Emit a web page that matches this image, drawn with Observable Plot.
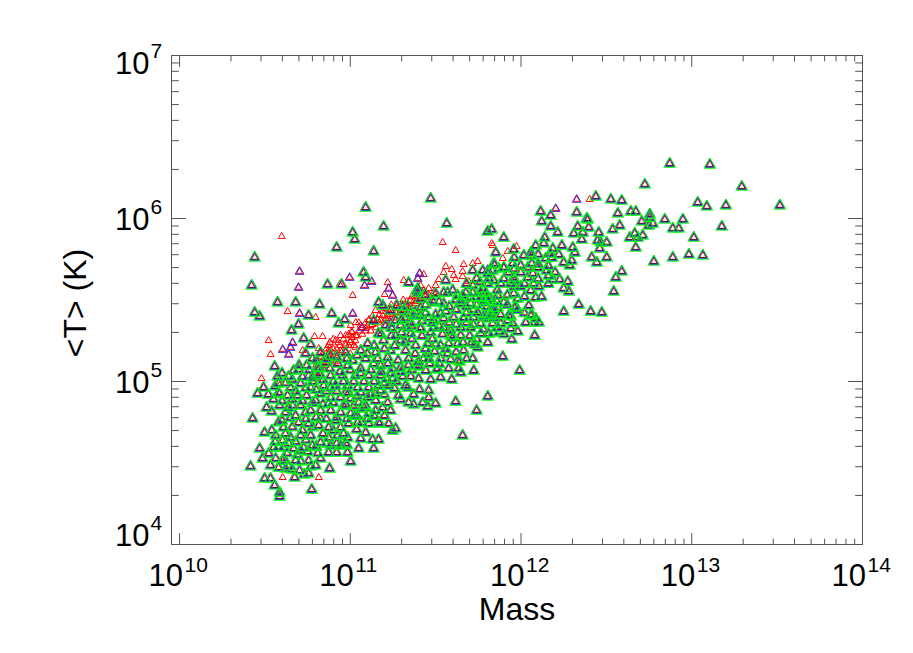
<!DOCTYPE html>
<html><head><meta charset="utf-8">
<style>html,body{margin:0;padding:0;background:#fff}svg{display:block}</style>
<script src="https://cdn.jsdelivr.net/npm/d3@7"></script>
<script src="https://cdn.jsdelivr.net/npm/@observablehq/plot@0.6"></script>
</head><body><div id="chart"></div>
<script>
// values are [log10 Mass, log10 <T>]
const fullPoints = [
[12.871,6.337],[13.106,6.331],[12.725,6.209],[13.293,6.196],[12.526,6.117],[12.590,6.110],[13.035,6.098],[13.088,6.074],[13.200,6.080],[13.516,6.080],[12.567,6.031],[12.643,6.043],[12.672,6.043],[12.754,6.025],[12.754,6.006],[12.707,5.982],[12.772,5.969],[12.842,5.994],[12.948,5.994],[12.537,5.933],[12.578,5.957],[12.748,5.957],[12.889,5.939],[12.924,5.939],[13.176,5.951],[13.012,5.883],[12.637,5.883],[12.666,5.908],[12.684,5.883],[12.713,5.896],[12.502,5.853],[12.467,5.853],[12.672,5.822],[12.502,5.761],[12.889,5.761],[12.983,5.779],[13.065,5.773],[12.778,5.736],[12.590,5.675],[12.555,5.638],
[12.438,6.135],[12.115,6.043],[12.174,6.018],[12.326,6.037],[12.385,6.0],[12.391,5.994],[12.174,5.951],[12.332,5.951],[11.805,5.920],[11.828,5.933],[12.215,5.914],[12.309,5.908],[12.397,5.945],[12.362,5.914],[12.455,5.914],[11.899,5.883],[12.139,5.883],[12.356,5.871],[12.449,5.865],[12.121,5.982],[12.239,5.834],[12.461,5.816],[12.303,5.822],[12.315,5.791],[11.957,5.810],[12.086,5.834],[12.133,5.847],[12.186,5.816],[11.852,5.791],[12.016,5.773],[12.057,5.791],[12.174,5.785],[12.221,5.779],[12.414,5.761],[12.444,5.730],[11.951,5.724],[12.063,5.724],[12.145,5.755],[12.250,5.730],[12.297,5.742],[12.285,5.712],[11.846,5.718],[11.899,5.699],[11.998,5.712],[12.098,5.699],[11.776,5.681],[11.834,5.681],[11.928,5.669],[11.998,5.669],[12.069,5.663],[12.151,5.681],[12.162,5.650],[11.805,5.663],[11.811,5.632],[11.957,5.638],[12.039,5.638],[12.186,5.626],[12.227,5.626],[12.274,5.613],[11.881,5.601],[11.940,5.601],[11.998,5.583],[12.074,5.601],[12.104,5.583],[12.250,5.571],[11.776,5.571],[12.280,5.552],[12.057,5.558],[12.543,5.552],[11.793,5.546],[11.957,5.540],[11.863,5.528],[12.086,5.515],[11.822,5.509],[11.981,5.509],[11.899,5.485],[11.781,5.485],[12.045,5.466],[11.863,5.454],[11.963,5.454],[12.338,5.472],[12.408,5.429],[12.473,5.423],[12.250,5.429],[12.057,5.405],[11.822,5.405],[11.928,5.405],[12.086,5.387],
[12.063,5.411],[12.028,5.362],[12.080,5.362],[12.104,5.362],[12.080,5.282],[11.946,5.258],[11.981,5.307],[11.875,5.307],[11.969,5.460],[11.951,5.356],[11.922,5.374],[11.940,5.325],[11.893,5.153],[11.992,5.067],[11.805,5.239],[11.805,4.908],[11.740,4.822],[11.658,4.669],[11.617,4.877],[11.500,4.865],[11.453,4.847],[11.424,4.871],[11.371,4.859],[11.342,4.871],[11.295,4.890],[11.459,4.902],[11.371,4.920],[11.336,4.963],[11.406,4.951],[11.459,4.945],[11.723,5.067],[11.594,5.012],[11.529,5.025],[11.471,5.012],[11.647,5.055],[11.635,5.080],[11.576,5.080],[11.506,5.074],[11.442,5.067],[11.354,5.031],[11.307,5.031],[11.401,5.092],[11.465,5.110],[11.529,5.141],[11.588,5.135],[11.641,5.123],[11.682,5.141],[11.717,5.141],[11.664,5.190],[11.570,5.172],[11.494,5.184],[11.430,5.141],[11.746,5.209],[11.711,5.239],[11.629,5.233],[11.576,5.233],[11.453,5.233],[11.529,5.221],[11.729,5.227],[11.588,5.282],[11.647,5.282],[11.811,5.294],[11.764,5.294],[11.705,5.331],[11.647,5.331],[11.547,5.331],[11.488,5.331],[11.412,5.331],[11.336,5.331],[11.764,5.356],[11.834,5.356],[11.881,5.356],[11.664,5.393],[11.606,5.393],[11.529,5.417],[11.459,5.393],[11.371,5.405],[11.313,5.436],[11.746,5.423],[11.805,5.387],[11.840,5.436],[11.647,5.479],[11.705,5.479],[11.764,5.515],[11.805,5.497],[11.547,5.479],[11.483,5.497],[11.412,5.454],[11.354,5.417],[11.570,5.546],[11.658,5.528],[11.717,5.546],[11.395,5.546],
[10.428,4.773],[10.492,4.963],[10.457,4.926],[10.510,4.840],[10.539,4.816],[10.586,4.853],[10.586,4.926],[10.580,4.988],[10.498,4.687],[10.469,4.589],[10.416,4.479],[10.563,4.669],[10.551,4.595],[10.522,4.558],[10.486,4.528],[10.533,4.485],[10.563,4.528],[10.498,4.405],[10.533,4.405],[10.557,4.362],[10.586,4.319],[10.586,4.294],[10.774,4.337],[10.879,4.466],[11.002,4.509],[10.674,4.411],[10.756,4.436],[10.703,4.454],[10.621,4.466],[10.604,4.515],[10.797,4.485],[10.826,4.528],[10.873,4.564],[10.920,4.564],[10.984,4.564],[11.049,4.589],[11.137,4.589],[11.131,4.644],[11.166,4.644],[11.037,4.706],[11.090,4.687],[11.248,4.699],[11.266,4.712],[11.225,4.742],[11.172,4.742],[11.108,4.742],[11.067,4.748],[10.609,4.718],[10.668,4.589],[10.727,4.595],[10.756,4.515],[10.680,4.515],[10.639,4.479],[10.580,4.472],[10.609,4.595],[10.650,4.656],[10.709,4.669],[10.768,4.669],[10.826,4.626],[10.873,4.656],[10.926,4.669],[10.984,4.656],[10.943,4.718],[10.873,4.718],[10.815,4.730],[10.756,4.742],[10.697,4.748],[10.650,4.779],[10.639,4.840],[10.691,4.914],[10.744,4.914],[10.633,4.914],[10.709,4.853],[10.768,4.822],[10.826,4.822],[10.885,4.822],[10.943,4.810],[11.002,4.804],[11.043,4.748],[11.061,4.834],[11.108,4.804],[11.166,4.748],[11.190,4.840],[11.219,4.871],[11.260,4.957],[11.178,4.945],[11.102,4.902],[11.002,4.896],[10.943,4.902],[10.885,4.902],[10.826,4.926],[10.768,4.963],[10.709,4.988],[10.650,4.963],[10.844,4.975],[10.914,4.975],[10.984,4.975],[11.043,4.963],[11.108,4.963],[11.166,4.975],[11.225,4.975],
[10.440,5.423],[10.469,5.399],[10.756,5.405],[10.891,5.417],[10.967,5.380],[10.932,5.356],[10.697,5.350],[10.656,5.313],[10.727,5.264],[10.768,5.227],[10.738,5.172],[10.557,5.092],[10.744,5.098],[10.668,5.067],[10.697,5.074],[10.820,5.086],[10.574,5.031],[10.639,5.031],[10.580,4.933],
[11.090,6.067],[11.195,5.951],[11.014,5.914],[11.026,5.871],[10.920,5.822],[11.137,5.798],[10.440,5.761],[10.422,5.589],[10.867,5.595],[10.949,5.595],[11.078,5.669],[11.090,5.638],[11.342,5.607],[10.574,5.485],[10.680,5.485],[10.820,5.472],[11.166,5.485],[11.190,5.466],[11.272,5.466],[11.307,5.460],[11.336,5.460],
[11.471,6.123],[11.565,5.969],[11.840,5.724],[11.717,5.681],[11.869,5.693],[11.395,5.571],[11.559,5.620],[11.740,5.632],[11.717,5.589],[11.805,5.601],[11.389,5.558],[11.547,5.546],[11.412,5.509],[11.488,5.485],[11.629,5.528],[11.676,5.546],[11.764,5.546],[11.137,5.374],[11.295,5.344],[11.166,5.294],[11.195,5.252],[11.102,5.233],[11.295,5.252],[11.354,5.294],[11.412,5.325],[11.471,5.301],[11.488,5.374],[11.547,5.387],[11.588,5.313],[11.664,5.387],[11.723,5.393],[11.647,5.497],[11.705,5.515],[11.781,5.497],[11.840,5.454],[11.805,5.417],[11.863,5.331],[11.629,5.129],[11.512,5.080],[11.459,5.172],[11.383,5.098],[11.295,5.086],[11.219,5.147],[11.137,5.110],[11.061,5.080],[10.984,5.098],[10.926,5.110],[10.855,5.117],[10.809,5.086],
[10.885,5.160],[10.973,5.178],[11.061,5.190],[11.148,5.178],[11.236,5.190],[11.324,5.190],[11.383,5.221],[11.266,5.282],[11.090,5.141],[11.014,5.129],[11.178,5.098],[11.248,5.080],[11.342,5.141],[10.826,5.178],[10.779,5.141],[10.809,5.037],[10.885,5.037],[10.955,5.037],[11.031,5.037],[11.108,5.037],[11.178,5.037],[11.248,5.018],[10.779,5.025],[10.797,4.883],[10.873,4.865],[10.973,4.859],[11.049,4.871],[11.149,4.883],[10.738,4.810],[10.826,4.773],[10.914,4.761],[10.990,4.742],[10.779,4.607],[10.885,4.607],[10.973,4.620],[11.061,4.650],[10.662,4.853],[10.604,4.638],[10.709,4.577],[10.943,4.607],[11.026,4.791],[11.090,4.853],[11.148,4.822],[11.236,4.822],[11.283,4.914],[10.885,4.963],[10.973,4.933],[11.061,4.933],[11.149,4.926],[11.213,5.018],[11.324,4.975],[11.400,5.018],[11.266,5.374],[11.207,5.344],[11.354,5.362],[11.412,5.405],[11.236,5.436]
];
const denseCore = [
[10.60,4.76],[10.66,4.72],[10.72,4.70],[10.78,4.72],[10.84,4.68],[10.90,4.70],[10.96,4.68],[10.62,4.68],[10.68,4.63],[10.74,4.64],[10.80,4.60],[10.86,4.62],[10.92,4.62],[10.98,4.61],[10.63,4.56],[10.69,4.55],[10.75,4.57],[10.81,4.56],[10.58,4.60],[10.64,4.62],[10.71,4.51],[10.77,4.48],[10.66,4.46],[10.73,4.43],[10.61,4.53],[10.56,4.63],[10.54,4.70],[10.58,4.75],[10.62,4.81],[10.68,4.79],[10.74,4.77],[10.80,4.78],[10.86,4.77],[10.92,4.78],[10.98,4.77],[11.04,4.79],[11.10,4.77],[10.60,4.88],[10.66,4.89],[10.72,4.88],[10.78,4.87],[10.84,4.86],[10.90,4.87],[10.96,4.85],[11.02,4.85],[11.08,4.84],[11.14,4.79],[11.20,4.79],[10.55,4.89],[10.52,4.92],[10.56,4.97],[10.62,4.99],[10.68,4.94],[10.74,4.96],[10.80,4.95],[10.86,4.94],[10.92,4.94],[10.99,4.93],[11.04,4.91],[11.12,4.92],[11.20,4.92],[10.66,5.01],[10.72,5.03],[10.78,5.00],[10.84,5.01],[10.90,5.00],[10.96,5.00],[11.02,5.00],[11.08,5.00],[11.14,5.00],[11.20,4.99],[11.27,5.00],[10.60,5.05],[10.70,5.10],[10.76,5.07],[10.82,5.05],[10.88,5.08],[10.94,5.06],[11.00,5.07],[11.06,5.05],[11.12,5.07],[11.18,5.06],[11.24,5.05],[11.30,5.06],[11.36,5.07],
[10.80,5.13],[10.86,5.14],[10.92,5.15],[10.98,5.14],[11.04,5.16],[11.10,5.17],[11.16,5.14],[11.22,5.11],[11.28,5.13],[11.34,5.10],[11.40,5.12],[11.46,5.14],[11.52,5.11],
[11.14,5.22],[11.20,5.20],[11.26,5.22],[11.32,5.24],[11.38,5.17],[11.44,5.20],[11.50,5.23],[11.56,5.20],[11.62,5.18],
[11.18,5.29],[11.24,5.28],[11.30,5.30],[11.36,5.26],[11.42,5.28],[11.48,5.26],[11.54,5.29],[11.60,5.27],[11.66,5.24],[11.70,5.28],[11.74,5.26],
[11.24,5.33],[11.30,5.38],[11.36,5.34],[11.42,5.37],[11.48,5.36],[11.52,5.34],[11.58,5.36],[11.62,5.35],[11.68,5.36],[11.72,5.35],[11.78,5.32],[11.84,5.30],[11.90,5.29],
[11.32,5.39],[11.38,5.43],[11.44,5.42],[11.50,5.41],[11.56,5.43],[11.62,5.44],[11.68,5.42],[11.72,5.44],[11.78,5.40],[11.84,5.39],[11.88,5.41],[11.94,5.40],
[11.44,5.47],[11.52,5.49],[11.58,5.46],[11.62,5.50],[11.68,5.46],[11.74,5.47],[11.80,5.46],[11.86,5.49],[11.92,5.47],[11.98,5.44],[12.02,5.42],
[11.44,5.53],[11.50,5.54],[11.60,5.56],[11.74,5.52],[11.80,5.52],[11.86,5.56],[11.92,5.53],[11.96,5.58],[12.02,5.52],[12.12,5.52],
[11.68,5.60],[11.76,5.61],[11.84,5.62],[11.90,5.63],[11.96,5.62],[12.02,5.60],[12.10,5.63],[12.16,5.60],
[11.90,5.70],[11.96,5.69],[12.04,5.70],[12.10,5.72],[12.16,5.71],[12.20,5.67],
[11.96,5.76],[12.06,5.77],[12.10,5.78],[12.18,5.76]
];
const bluePoints = [
[10.703,5.675],[10.697,5.577],[10.996,5.638],[11.125,5.613],[11.084,5.589],[11.225,5.571],[11.248,5.528],[10.703,5.417],[11.014,5.417],[10.662,5.239],[10.604,5.196],[10.650,5.209],[10.639,5.166],[10.756,5.037],[11.406,5.663],[11.395,5.632],[11.805,5.687],[11.846,5.724],[12.203,6.061],[12.326,6.117],[11.236,5.356],[11.067,5.331]
];
const redPoints = [
[10.598,5.890],[12.402,6.117],[11.828,5.847],[11.834,5.834],[11.974,5.828],[11.922,5.798],[11.893,5.755],[11.541,5.853],[11.617,5.804],[11.559,5.706],[11.664,5.718],[11.594,5.687],[11.746,5.736],[11.717,5.724],[11.547,5.669],[11.658,5.675],[11.606,5.650],[11.430,5.656],[11.313,5.620],[11.518,5.626],[11.617,5.626],[11.658,5.644],[11.694,5.613],[11.500,5.589],[11.412,5.589],[11.219,5.607],[11.014,5.528],[11.201,5.534],[11.488,5.546],[10.938,5.595],[10.633,5.429],[10.797,5.393],[10.791,5.276],[10.838,5.276],[10.522,5.251],[10.533,5.166],[10.721,5.190],[10.815,5.202],[10.879,5.202],[10.838,5.172],[10.480,5.018],[10.592,4.988],[10.604,4.411],[10.604,4.767],[10.815,4.411],[11.108,5.374],[11.190,5.405],[11.008,5.307],
[11.354,5.497],[11.383,5.479],[11.412,5.540],[11.442,5.528],[11.471,5.515],[11.430,5.558],[11.459,5.571],[11.324,5.466],[11.295,5.436],[11.266,5.423],[11.236,5.411],[11.207,5.387],[11.178,5.374],[11.148,5.362],[11.119,5.344],[11.090,5.325],[11.061,5.344],[11.032,5.282],[11.002,5.251],[10.973,5.221],[10.943,5.190],[10.914,5.160],[10.885,5.129],[10.855,5.098],[10.826,5.055],[10.797,5.018],[11.148,5.436],[11.207,5.448],[10.943,5.282],[10.914,5.252],[10.873,5.221],[10.973,5.282],[11.002,5.344],[11.032,5.362],
[10.82,5.12],[10.85,5.15],[10.88,5.18],[10.84,5.08],[10.80,5.10],[10.90,5.15],[10.92,5.20],[10.95,5.18],[10.93,5.24],[10.96,5.26],[10.99,5.22],[10.99,5.29],[11.01,5.27],[11.03,5.25],[11.05,5.31],[11.07,5.33],[11.05,5.36],[11.09,5.36],[11.11,5.38],[11.13,5.35],[11.13,5.40],[11.16,5.38],[11.17,5.41],[11.19,5.43],[11.22,5.40],[11.22,5.44],[11.25,5.42],[11.28,5.45],[11.30,5.47],[11.27,5.48],[11.33,5.49],[11.36,5.52],[11.39,5.50],[11.41,5.52],[11.44,5.55],[11.46,5.53],[11.43,5.50],[11.40,5.56],[11.38,5.53],[10.87,5.11],[10.91,5.12],[10.95,5.14],[10.97,5.19],[11.00,5.17],[11.03,5.21],
[10.87,5.17],[10.90,5.20],[10.92,5.17],[10.94,5.22],[10.97,5.23],[11.00,5.24],[11.02,5.22],[11.01,5.30],[11.04,5.28],[11.07,5.29],[11.09,5.31],[11.10,5.34],[11.12,5.31],[11.15,5.33],[11.17,5.36],[11.20,5.37],[11.23,5.37],[11.26,5.39],[11.29,5.42],[11.32,5.44],[11.35,5.46],[11.41,5.49],[11.42,5.55],[11.37,5.49],[11.31,5.50],[11.24,5.47],[10.90,5.26],[10.88,5.24],[10.86,5.20],[10.83,5.15]
];
const xDecades = [10,11,12,13,14];
const yDecades = [4,5,6,7];
const minorSteps = [2,3,4,5,6,7,8,9];
const xDomain = [8.97e9,1e14];
const yDomain = [1e4,1e7];

const xMajor = xDecades.map(d=>10**d);
const yMajor = yDecades.map(d=>10**d);
const xMinor = xDecades.slice(0,-1).flatMap(d=>minorSteps.map(s=>s*10**d));
const yMinor = yDecades.slice(0,-1).flatMap(d=>minorSteps.map(s=>s*10**d));
const allFull = fullPoints.concat(denseCore);

const line = {draw(c,l){c.moveTo(0,0);c.lineTo(0,-l);}};
const axisColor = "#555";
const tickX = (vals,len,anchor,rotate)=>Plot.vector(vals,{x:d=>d,y:null,frameAnchor:anchor,length:len,rotate,anchor:"start",shape:line,stroke:axisColor,strokeWidth:1});
const tickY = (vals,len,anchor,rotate)=>Plot.vector(vals,{y:d=>d,x:null,frameAnchor:anchor,length:len,rotate,anchor:"start",shape:line,stroke:axisColor,strokeWidth:1});
const layer = (pts,stroke,r,dy=0,sw=1)=>Plot.dot(pts,{x:d=>10**d[0],y:d=>10**d[1],symbol:"triangle",r,stroke,fill:"none",strokeWidth:sw,dy});
const F = "Liberation Sans, Arial, sans-serif";
const yLabelOffsets = {4:1,5:11,6:11.5,7:18};

const marks = [
  layer(redPoints,"#ff0000",2.6),
  layer(bluePoints,"#ff0000",2.4),
  layer(allFull,"#ff0000",2.4),
  layer(allFull,"#111133",3.6,-0.6,0.8),
  layer(bluePoints,"#3a2be0",3.3,0.3),
  layer(allFull,"#3a2be0",3.3,0.3),
  layer(allFull,"#00ff00",4.4,0.3),
  tickX(xMajor,11,"bottom",0), tickX(xMinor,5.5,"bottom",0),
  tickX(xMajor,11,"top",180), tickX(xMinor,5.5,"top",180),
  tickY(yMajor,14,"left",90), tickY(yMinor,7,"left",90),
  tickY(yMajor,14,"right",-90), tickY(yMinor,7,"right",-90),
  Plot.frame({stroke:axisColor,strokeWidth:1}),
  Plot.text(xDecades,{x:d=>10**d,frameAnchor:"bottom",text:()=>"10",fontSize:31,fontFamily:F,fill:"#000",textAnchor:"end",lineAnchor:"bottom",dx:3.5,dy:41}),
  Plot.text(xDecades,{x:d=>10**d,frameAnchor:"bottom",text:d=>String(d),fontSize:21,fontFamily:F,fill:"#000",textAnchor:"start",lineAnchor:"bottom",dx:5,dy:27}),
  ...yDecades.map(d=>Plot.text([d],{y:v=>10**v,frameAnchor:"left",text:()=>"10",fontSize:31,fontFamily:F,fill:"#000",textAnchor:"end",lineAnchor:"bottom",dx:-22,dy:yLabelOffsets[d]})),
  ...yDecades.map(d=>Plot.text([d],{y:v=>10**v,frameAnchor:"left",text:v=>String(v),fontSize:21,fontFamily:F,fill:"#000",textAnchor:"start",lineAnchor:"bottom",dx:-21,dy:yLabelOffsets[d]-16})),
  Plot.text(["Mass"],{frameAnchor:"bottom",text:d=>d,fontSize:32,fontFamily:F,fill:"#000",lineAnchor:"bottom",dy:75}),
  Plot.text(["<T> (K)"],{frameAnchor:"left",text:d=>d,fontSize:32,fontFamily:F,fill:"#000",rotate:-90,textAnchor:"middle",lineAnchor:"bottom",dx:-86,dy:3})
];

const chart = Plot.plot({
  width:913,height:653,
  marginLeft:171,marginRight:51,marginTop:55,marginBottom:109,
  x:{type:"log",domain:xDomain,axis:null},
  y:{type:"log",domain:yDomain,axis:null},
  style:{background:"#fff",overflow:"visible"},
  marks
});
document.getElementById("chart").appendChild(chart);
</script></body></html>
